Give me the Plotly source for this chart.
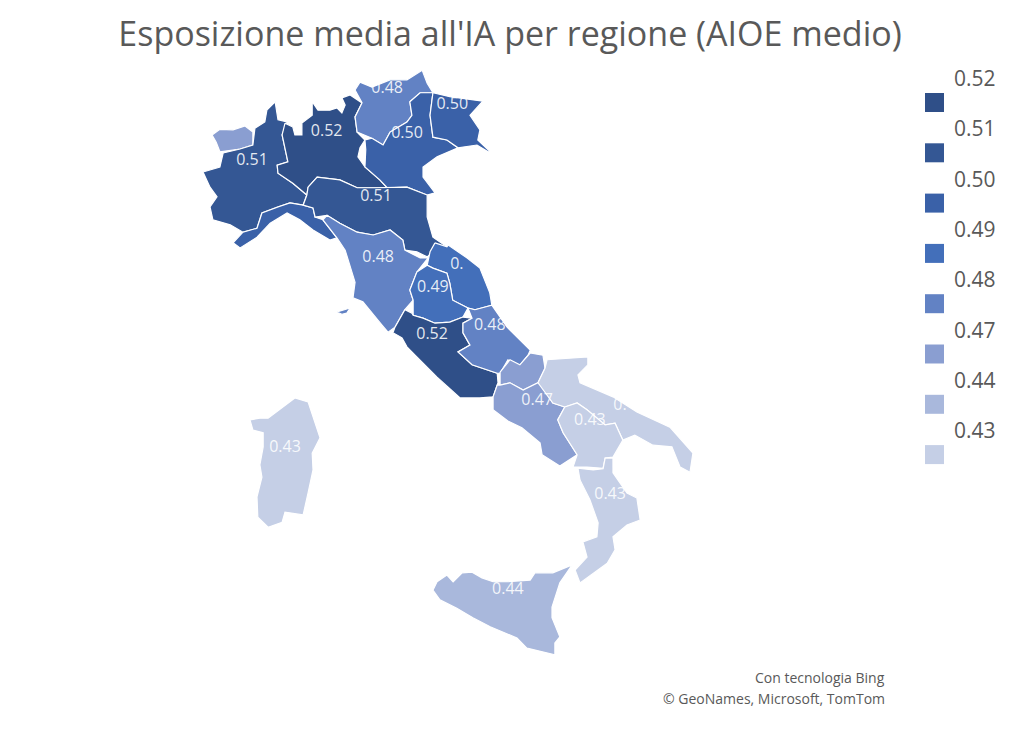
import plotly.graph_objects as go

FONT = "Open Sans"
GREY = "#595959"

# Colore per valore, come nella legenda
legend_values = ["0.52", "0.51", "0.50", "0.49", "0.48", "0.47", "0.44", "0.43"]
legend_colors = ["#2f4f88", "#345794", "#3a61a8", "#436fba", "#6282c4", "#8a9ed1", "#a9b8dc", "#c5cfe6"]

region_names = ["Valle d'Aosta", "Piemonte", "Liguria", "Lombardia", "Trentino-Alto Adige", "Veneto",
                "Friuli-Venezia Giulia", "Emilia-Romagna", "Toscana", "Elba", "Marche", "Umbria", "Lazio",
                "Abruzzo", "Molise", "Campania", "Puglia", "Basilicata", "Calabria", "Sicilia", "Sardegna"]
region_values = ["0.47", "0.51", "0.50", "0.52", "0.48", "0.50",
                 "0.50", "0.51", "0.48", "0.48", "0.49", "0.49", "0.52",
                 "0.48", "0.47", "0.47", "0.43", "0.43", "0.43", "0.44", "0.43"]

# Contorni regionali (lon, lat)
valle_lon = [6.85, 7.04, 7.36, 7.65, 7.84, 7.84, 7.53, 7.04, 6.95]
valle_lat = [45.90, 46.00, 45.99, 46.06, 45.95, 45.72, 45.65, 45.60, 45.77]
piemonte_lon = [8.38, 8.18, 8.13, 7.89, 7.84, 7.53, 7.12, 7.04, 6.63, 6.80, 6.97, 6.80, 6.87, 7.29, 7.60, 7.94,
                8.06, 8.45, 8.74, 9.06, 9.15, 8.81, 8.45, 8.43, 8.69, 8.55, 8.67, 8.45]
piemonte_lat = [46.49, 46.34, 46.13, 46.02, 45.72, 45.65, 45.58, 45.33, 45.24, 44.97, 44.80, 44.62, 44.39, 44.30, 44.17, 44.24,
                44.51, 44.62, 44.69, 44.65, 44.83, 45.04, 45.22, 45.36, 45.42, 45.90, 46.13, 46.17]
liguria_lon = [7.36, 7.60, 7.94, 8.06, 8.45, 8.74, 9.06, 9.30, 9.35, 9.54, 9.88, 9.71, 9.30, 8.98, 8.67, 8.26, 7.94, 7.53]
liguria_lat = [43.98, 44.17, 44.24, 44.51, 44.62, 44.69, 44.65, 44.60, 44.44, 44.39, 44.07, 44.03, 44.21, 44.39, 44.51, 44.33, 44.08, 43.89]
lombardia_lon = [8.62, 8.81, 8.86, 9.03, 9.03, 9.28, 9.28, 9.42, 9.71, 9.88, 10.00, 10.08, 10.00, 10.20, 10.49, 10.32, 10.37,
                 10.56, 10.44, 10.39, 10.56, 10.92, 11.10, 10.80, 10.37, 9.95, 9.40, 9.18, 9.15, 8.81, 8.45, 8.43, 8.69, 8.55]
lombardia_lat = [46.11, 46.04, 45.90, 45.90, 46.11, 46.25, 46.49, 46.34, 46.34, 46.38, 46.29, 46.43, 46.56, 46.61, 46.47, 46.22, 45.95,
                 45.81, 45.67, 45.51, 45.33, 45.10, 44.96, 44.96, 44.96, 45.10, 45.15, 44.97, 44.83, 45.04, 45.22, 45.36, 45.42, 45.90]
trentino_lon = [10.32, 10.44, 10.73, 11.17, 11.58, 11.95, 12.07, 12.21, 11.90, 11.65, 11.70, 11.58, 11.17, 11.00, 10.73, 10.37, 10.32, 10.49]
trentino_lat = [46.70, 46.84, 46.75, 46.88, 46.88, 47.05, 46.82, 46.65, 46.65, 46.49, 46.25, 46.13, 45.95, 45.72, 45.84, 45.95, 46.22, 46.47]
veneto_lon = [11.65, 11.90, 12.21, 12.14, 12.21, 12.55, 12.82, 12.31, 11.97, 11.97, 12.26, 12.07, 11.58, 11.10, 10.92, 10.56,
              10.58, 10.56, 10.73, 11.00, 11.17, 11.58, 11.70]
veneto_lat = [46.49, 46.65, 46.65, 46.25, 45.86, 45.81, 45.67, 45.51, 45.33, 45.15, 44.87, 44.83, 44.97, 44.96, 45.10, 45.33,
              45.64, 45.81, 45.84, 45.72, 45.95, 46.13, 46.25]
friuli_lon = [12.21, 12.62, 13.42, 13.11, 13.35, 13.30, 13.59, 13.55, 13.28, 12.82, 12.55, 12.21, 12.14]
friuli_lat = [46.65, 46.58, 46.50, 46.25, 45.99, 45.81, 45.61, 45.60, 45.72, 45.67, 45.81, 45.86, 46.25]
emilia_lon = [9.18, 9.40, 9.95, 10.37, 10.80, 11.10, 11.58, 12.07, 12.07, 12.21, 12.55, 12.33, 12.07, 11.82, 11.53, 11.48,
              11.17, 10.76, 10.37, 9.95, 9.64, 9.35, 9.30, 9.06, 9.15]
emilia_lat = [44.97, 45.15, 45.10, 44.96, 44.96, 44.96, 44.97, 44.83, 44.44, 44.08, 43.91, 43.89, 43.73, 43.82, 43.85, 44.03,
              44.21, 44.12, 44.17, 44.33, 44.47, 44.44, 44.60, 44.65, 44.83]
toscana_lon = [9.54, 9.64, 9.95, 10.37, 10.76, 11.17, 11.48, 11.53, 11.90, 12.09, 11.82, 11.65, 11.73, 11.53, 11.29, 11.12,
               10.97, 10.51, 10.27, 10.32, 10.08, 9.88]
toscana_lat = [44.39, 44.47, 44.33, 44.17, 44.12, 44.21, 44.03, 43.85, 43.71, 43.71, 43.46, 43.14, 42.96, 42.79, 42.48, 42.39,
               42.52, 42.93, 43.00, 43.28, 43.85, 44.07]
elba_lon = [9.88, 10.20, 10.12, 10.00]
elba_lat = [42.75, 42.82, 42.73, 42.71]
marche_lon = [12.26, 12.55, 12.58, 13.04, 13.35, 13.59, 13.64, 13.23, 13.06, 12.69, 12.62, 12.55, 12.21, 12.07, 12.14]
marche_lat = [43.98, 43.91, 43.94, 43.71, 43.53, 43.09, 42.87, 42.79, 42.82, 42.96, 43.26, 43.44, 43.53, 43.58, 43.82]
umbria_lon = [12.07, 12.21, 12.55, 12.62, 12.69, 13.06, 12.94, 12.62, 12.26, 11.97, 11.73, 11.73, 11.65, 11.82]
umbria_lat = [43.58, 43.53, 43.44, 43.26, 42.96, 42.82, 42.66, 42.57, 42.55, 42.64, 42.69, 42.96, 43.14, 43.46]
lazio_lon = [11.24, 11.29, 11.53, 11.70, 11.73, 11.97, 12.26, 12.62, 12.94, 13.16, 12.94, 12.94, 13.11, 12.82, 13.16, 13.77, 13.79,
             13.67, 13.35, 12.87, 12.58, 12.31, 11.82, 11.58, 11.46]
lazio_lat = [42.38, 42.48, 42.79, 42.73, 42.69, 42.64, 42.55, 42.57, 42.66, 42.64, 42.55, 42.38, 42.16, 42.04, 41.81, 41.66, 41.49,
             41.24, 41.22, 41.22, 41.41, 41.59, 41.95, 42.13, 42.29]
abruzzo_lon = [13.06, 13.23, 13.64, 14.01, 14.57, 14.52, 14.28, 14.03, 13.84, 13.77, 13.16, 12.82, 13.11, 12.94, 12.94, 13.16]
abruzzo_lat = [42.82, 42.79, 42.87, 42.48, 42.07, 41.98, 41.77, 41.90, 41.66, 41.66, 41.81, 42.04, 42.16, 42.38, 42.55, 42.64]
molise_lon = [13.84, 14.08, 14.32, 14.57, 14.88, 14.93, 14.76, 14.40, 14.08, 13.84]
molise_lat = [41.68, 41.90, 41.81, 42.02, 41.98, 41.75, 41.49, 41.36, 41.49, 41.45]
campania_lon = [13.84, 14.08, 14.40, 14.76, 14.88, 15.12, 15.41, 15.24, 15.37, 15.71, 15.29, 14.86, 14.81, 14.37, 14.03, 13.67, 13.67, 13.77]
campania_lat = [41.45, 41.49, 41.36, 41.49, 41.42, 41.13, 41.06, 40.83, 40.60, 40.21, 40.01, 40.21, 40.42, 40.69, 40.81, 41.01, 41.24, 41.45]
puglia_lon = [14.98, 15.97, 15.97, 15.73, 15.78, 16.58, 17.16, 17.48, 17.96, 18.52, 18.45, 18.21, 18.01, 17.55, 17.11, 16.82,
              16.63, 16.39, 15.95, 15.71, 15.41, 15.12, 14.76, 14.93]
puglia_lat = [41.90, 41.95, 41.81, 41.63, 41.49, 41.24, 40.97, 40.86, 40.70, 40.24, 39.90, 39.99, 40.35, 40.38, 40.56, 40.47,
              40.77, 40.74, 41.01, 41.13, 41.06, 41.13, 41.49, 41.75]
basilicata_lon = [15.41, 15.71, 15.95, 16.39, 16.63, 16.82, 16.58, 16.39, 16.34, 15.95, 15.61, 15.71, 15.37, 15.24]
basilicata_lat = [41.06, 41.13, 41.01, 40.74, 40.77, 40.47, 40.17, 40.15, 39.97, 39.99, 39.99, 40.21, 40.60, 40.83]
calabria_lon = [15.73, 16.10, 16.34, 16.39, 16.58, 16.58, 16.92, 17.16, 17.24, 16.92, 16.58, 16.63, 16.44, 16.10, 15.78, 15.66,
                15.95, 15.85, 16.19, 16.22, 16.02, 15.78]
calabria_lat = [39.97, 39.94, 39.96, 40.15, 40.15, 39.89, 39.53, 39.44, 39.05, 38.96, 38.75, 38.52, 38.28, 38.10, 37.93, 38.16,
                38.39, 38.66, 38.75, 39.00, 39.41, 39.76]
sicilia_lon = [12.21, 12.31, 12.55, 12.70, 12.92, 13.16, 13.40, 13.67, 14.01, 14.57, 14.69, 15.12, 15.59, 15.29, 15.10, 15.10,
               15.29, 15.17, 15.17, 14.49, 14.25, 13.60, 13.18, 12.79, 12.38]
sicilia_lat = [37.80, 37.95, 38.07, 37.95, 38.11, 38.12, 38.02, 37.95, 37.95, 37.98, 38.11, 38.11, 38.25, 37.93, 37.50, 37.31,
               36.97, 36.86, 36.65, 36.77, 36.95, 37.15, 37.31, 37.48, 37.63]
sardegna_lon = [7.77, 8.01, 8.21, 8.55, 8.86, 9.18, 9.28, 9.47, 9.28, 9.30, 9.18, 9.06, 8.62, 8.55, 8.21, 7.96, 7.94, 8.06, 8.01, 8.09, 8.09, 7.84]
sardegna_lat = [40.83, 40.86, 40.86, 41.04, 41.22, 41.15, 40.92, 40.51, 40.24, 39.94, 39.53, 39.14, 39.19, 39.01, 38.92, 39.10, 39.46, 39.81, 40.03, 40.35, 40.60, 40.65]

region_lons = [valle_lon, piemonte_lon, liguria_lon, lombardia_lon, trentino_lon, veneto_lon, friuli_lon, emilia_lon,
               toscana_lon, elba_lon, marche_lon, umbria_lon, lazio_lon, abruzzo_lon, molise_lon, campania_lon,
               puglia_lon, basilicata_lon, calabria_lon, sicilia_lon, sardegna_lon]
region_lats = [valle_lat, piemonte_lat, liguria_lat, lombardia_lat, trentino_lat, veneto_lat, friuli_lat, emilia_lat,
               toscana_lat, elba_lat, marche_lat, umbria_lat, lazio_lat, abruzzo_lat, molise_lat, campania_lat,
               puglia_lat, basilicata_lat, calabria_lat, sicilia_lat, sardegna_lat]

# Etichette dati (alcune tagliate come nell'originale)
label_text = ["0.48", "0.50", "0.50", "0.52", "0.51", "0.51", "0.48", "0.", "0.49", "0.52", "0.48", "0.47", "0.43", "0.", "0.43", "0.44", "0.43"]
label_lon = [11.10, 12.68, 11.58, 9.63, 7.82, 10.83, 10.88, 12.79, 12.21, 12.19, 13.59, 14.74, 16.02, 16.75, 16.51, 14.03, 8.62]
label_lat = [46.72, 46.44, 45.92, 45.95, 45.44, 44.80, 43.71, 43.59, 43.18, 42.34, 42.50, 41.17, 40.81, 41.08, 39.50, 37.81, 40.33]

# La pagina ha un margine di 8 px attorno al grafico
W, H, PAD = 1006, 718, 8


def px(x):
    return (x - PAD) / W


def py(y):
    return 1 - (y - PAD) / H


fig = go.Figure()

for name, value, lon, lat in zip(region_names, region_values, region_lons, region_lats):
    fig.add_trace(go.Scatter(
        x=lon + lon[:1], y=lat + lat[:1],
        mode="lines", fill="toself", name=name,
        fillcolor=legend_colors[legend_values.index(value)],
        line=dict(color="white", width=1.2),
        hoverinfo="name",
    ))

fig.add_trace(go.Scatter(
    x=label_lon, y=label_lat, mode="text", text=label_text,
    textfont=dict(family=FONT, size=16, color="rgba(255,255,255,0.88)"),
    hoverinfo="skip",
))

# Legenda a destra: etichetta sopra ogni quadrato
shapes = []
annotations = []
for i, (value, color) in enumerate(zip(legend_values, legend_colors)):
    top = 93 + i * 50.3
    shapes.append(dict(type="rect", xref="paper", yref="paper", line_width=0, fillcolor=color,
                       x0=px(925), x1=px(944), y0=py(top + 19), y1=py(top)))
    annotations.append(dict(xref="paper", yref="paper", x=px(954), y=py(top - 15),
                            text=value, showarrow=False, xanchor="left", yanchor="middle", xshift=-2,
                            font=dict(family=FONT, size=21, color=GREY)))

annotations.append(dict(xref="paper", yref="paper", x=px(887), y=py(677), text="Con tecnologia Bing",
                        showarrow=False, xanchor="right", yanchor="middle", font=dict(family=FONT, size=14, color=GREY)))
annotations.append(dict(xref="paper", yref="paper", x=px(887), y=py(698), text="© GeoNames, Microsoft, TomTom",
                        showarrow=False, xanchor="right", yanchor="middle", font=dict(family=FONT, size=14, color=GREY)))

fig.update_layout(
    width=W, height=H,
    margin=dict(l=0, r=0, t=0, b=0),
    paper_bgcolor="white", plot_bgcolor="white",
    showlegend=False,
    title=dict(text="Esposizione media all'IA per regione (AIOE medio)",
               font=dict(family=FONT, size=34, color=GREY),
               x=px(510), xanchor="center", y=py(34), yanchor="middle"),
    xaxis=dict(range=[1.897, 26.313], visible=False, fixedrange=True),
    yaxis=dict(range=[35.384, 48.158], visible=False, fixedrange=True),
    shapes=shapes,
    annotations=annotations,
)

fig.write_html("out.html")
